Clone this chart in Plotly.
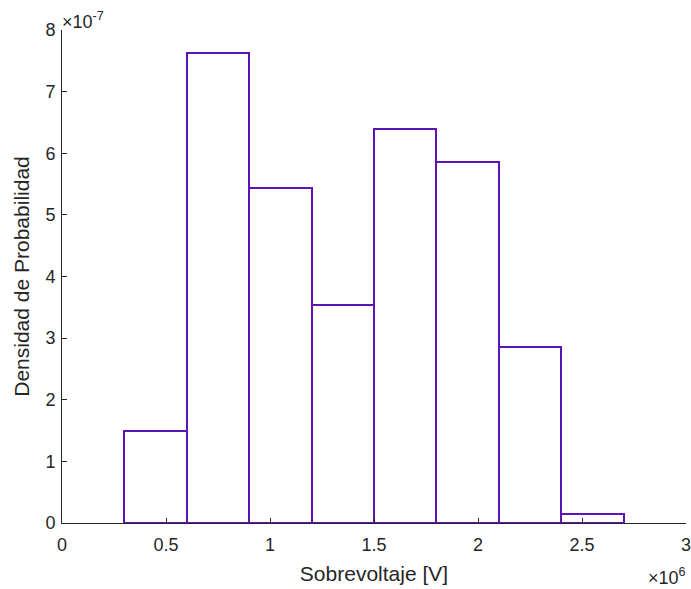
import plotly.graph_objects as go

bin_edges = [0.3e6, 0.6e6, 0.9e6, 1.2e6, 1.5e6, 1.8e6, 2.1e6, 2.4e6, 2.7e6]
densities = [1.49e-7, 7.62e-7, 5.44e-7, 3.54e-7, 6.39e-7, 5.85e-7, 2.86e-7, 0.14e-7]
x_ticks = [0, 0.5e6, 1.0e6, 1.5e6, 2.0e6, 2.5e6, 3.0e6]
x_tick_text = ["0", "0.5", "1", "1.5", "2", "2.5", "3"]
y_ticks = [i * 1e-7 for i in range(9)]
y_tick_text = [str(i) for i in range(9)]

centers = [(bin_edges[i] + bin_edges[i + 1]) / 2 for i in range(len(densities))]
widths = [bin_edges[i + 1] - bin_edges[i] for i in range(len(densities))]

color = "rgb(94,20,180)"
font = "Liberation Sans, Arial, sans-serif"
axis_col = "#262626"

fig = go.Figure(go.Bar(
    x=centers, y=densities, width=widths,
    marker=dict(color="white", line=dict(color=color, width=2)),
    hoverinfo="skip",
))

fig.update_layout(
    width=691, height=589,
    margin=dict(l=62, r=5, t=30, b=66),
    plot_bgcolor="white", paper_bgcolor="white",
    showlegend=False,
    font=dict(family=font, size=18, color=axis_col),
    bargap=0,
)
fig.update_xaxes(
    range=[0, 3e6], tickvals=x_ticks, ticktext=x_tick_text,
    tickfont=dict(family=font, size=18, color=axis_col),
    showgrid=False, zeroline=False, showline=True, linecolor=axis_col, linewidth=1,
    ticks="inside", ticklen=5, tickcolor=axis_col, automargin=False,
    ticklabeloverflow="allow",
    ticklabelstandoff=5,
    title=dict(text="Sobrevoltaje [V]", font=dict(family=font, size=21, color=axis_col), standoff=12),
)
fig.update_yaxes(
    range=[0, 8e-7], tickvals=y_ticks, ticktext=y_tick_text,
    tickfont=dict(family=font, size=18, color=axis_col),
    showgrid=False, zeroline=False, showline=True, linecolor=axis_col, linewidth=1,
    ticks="inside", ticklen=5, tickcolor=axis_col, automargin=False,
    ticklabeloverflow="allow",
    ticklabelstandoff=2,
    title=dict(text="Densidad de Probabilidad", font=dict(family=font, size=21, color=axis_col), standoff=10),
)
fig.add_annotation(xref="paper", yref="paper", x=0, y=1, xanchor="left", yanchor="bottom",
                   text="×10<sup>-7</sup>", showarrow=False,
                   font=dict(family=font, size=18, color=axis_col),
                   xshift=-2, yshift=-4)
fig.add_annotation(xref="paper", yref="paper", x=1, y=0, xanchor="right", yanchor="top",
                   text="×10<sup>6</sup>", showarrow=False,
                   font=dict(family=font, size=18, color=axis_col),
                   xshift=2, yshift=-40)
fig.write_html("out.html")
